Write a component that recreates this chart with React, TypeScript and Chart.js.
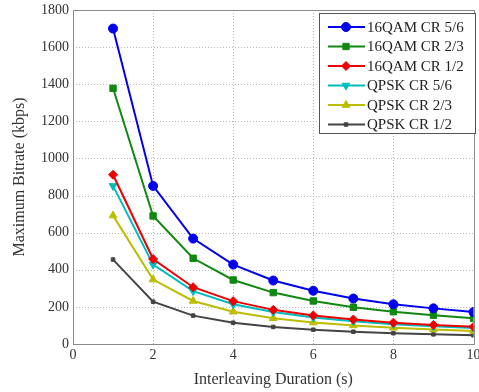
import React, { useEffect, useRef } from "react";
import { Chart, registerables } from "chart.js";

Chart.register(...registerables);

const durations = [1, 2, 3, 4, 5, 6, 7, 8, 9, 10];
const seriesNames = ["16QAM CR 5/6", "16QAM CR 2/3", "16QAM CR 1/2", "QPSK CR 5/6", "QPSK CR 2/3", "QPSK CR 1/2"];
const qam16_56 = [1700, 852, 568, 428, 342, 287, 245, 214, 192, 172];
const qam16_23 = [1378, 690, 462, 345, 277, 232, 198, 174, 155, 139];
const qam16_12 = [912, 458, 306, 231, 184, 154, 132, 115, 103, 93];
const qpsk_56 = [852, 428, 285, 214, 172, 143, 123, 107, 95, 86];
const qpsk_23 = [692, 347, 232, 174, 139, 116, 100, 87, 78, 70];
const qpsk_12 = [455, 228, 153, 115, 92, 77, 66, 58, 52, 47];
const xTicks = [0, 2, 4, 6, 8, 10];
const yTicks = [0, 200, 400, 600, 800, 1000, 1200, 1400, 1600, 1800];

const allValues = [qam16_56, qam16_23, qam16_12, qpsk_56, qpsk_23, qpsk_12];
const colors = ["#0000ee", "#118811", "#ee0000", "#00bcbc", "#bcbc00", "#444444"];
const pointStyles = ["circle", "rect", "rectRot", "triangle", "triangle", "rect"];
const pointRotations = [0, 0, 0, 180, 0, 0];
const pointRadii = [4.5, 4.5, 4.5, 4.5, 4.5, 2.5];

const FONT = "'Liberation Serif', 'Times New Roman', serif";

function drawMarker(ctx: CanvasRenderingContext2D, style: string, rotation: number, r: number, x: number, y: number) {
  ctx.save();
  ctx.translate(x, y);
  ctx.rotate((rotation * Math.PI) / 180);
  ctx.beginPath();
  if (style === "circle") {
    ctx.arc(0, 0, r, 0, Math.PI * 2);
  } else if (style === "rect") {
    const s = r * Math.SQRT1_2;
    ctx.rect(-s, -s, 2 * s, 2 * s);
  } else if (style === "rectRot") {
    const s = r * Math.SQRT1_2;
    ctx.moveTo(0, -s * 1.41);
    ctx.lineTo(s * 1.41, 0);
    ctx.lineTo(0, s * 1.41);
    ctx.lineTo(-s * 1.41, 0);
    ctx.closePath();
  } else if (style === "triangle") {
    ctx.moveTo(0, -r);
    ctx.lineTo(r * 0.866, r * 0.5);
    ctx.lineTo(-r * 0.866, r * 0.5);
    ctx.closePath();
  }
  ctx.fill();
  ctx.stroke();
  ctx.restore();
}

const gridPlugin = {
  id: "dottedGrid",
  beforeDatasetsDraw(chart: any) {
    const { ctx, chartArea, scales } = chart;
    ctx.save();
    ctx.strokeStyle = "#b8b8b8";
    ctx.lineWidth = 1;
    ctx.setLineDash([1, 2]);
    xTicks.forEach((v) => {
      const px = Math.round(scales.x.getPixelForValue(v)) + 0.5;
      ctx.beginPath();
      ctx.moveTo(px, chartArea.top);
      ctx.lineTo(px, chartArea.bottom);
      ctx.stroke();
    });
    yTicks.forEach((v) => {
      const py = Math.round(scales.y.getPixelForValue(v)) + 0.5;
      ctx.beginPath();
      ctx.moveTo(chartArea.left, py);
      ctx.lineTo(chartArea.right, py);
      ctx.stroke();
    });
    ctx.restore();
  },
};

const boxPlugin = {
  id: "boxAndLegend",
  afterDraw(chart: any) {
    const { ctx, chartArea } = chart;
    ctx.save();
    ctx.strokeStyle = "#8a8a8a";
    ctx.lineWidth = 1;
    ctx.strokeRect(Math.round(chartArea.left) + 0.5, Math.round(chartArea.top) + 0.5, Math.round(chartArea.right - chartArea.left), Math.round(chartArea.bottom - chartArea.top));

    // legend
    const bx = Math.round(chartArea.right) - 155;
    const by = Math.round(chartArea.top) + 3;
    const bw = 156;
    const bh = 120;
    ctx.fillStyle = "#ffffff";
    ctx.fillRect(bx, by, bw, bh);
    ctx.strokeStyle = "#555555";
    ctx.strokeRect(bx + 0.5, by + 0.5, bw, bh);
    ctx.font = "15px " + FONT;
    ctx.textBaseline = "middle";
    ctx.textAlign = "left";
    chart.data.datasets.forEach((ds: any, i: number) => {
      const cy = by + 14 + i * 19.5;
      ctx.strokeStyle = ds.borderColor;
      ctx.lineWidth = 2;
      ctx.beginPath();
      ctx.moveTo(bx + 9, cy);
      ctx.lineTo(bx + 46, cy);
      ctx.stroke();
      ctx.fillStyle = ds.backgroundColor;
      ctx.strokeStyle = ds.borderColor;
      ctx.lineWidth = 1;
      drawMarker(ctx, ds.pointStyle, ds.rotation, ds.pointRadius, bx + 27, cy);
      ctx.fillStyle = "#222222";
      ctx.fillText(ds.label, bx + 48, cy + 1);
    });
    ctx.restore();
  },
};

export default function App() {
  const ref = useRef<HTMLCanvasElement>(null);
  useEffect(() => {
    if (!ref.current) return;
    const datasets = seriesNames.map((name, i) => ({
      label: name,
      data: durations.map((d, j) => ({ x: d, y: allValues[i][j] })),
      borderColor: colors[i],
      backgroundColor: colors[i],
      borderWidth: 2,
      pointStyle: pointStyles[i],
      rotation: pointRotations[i],
      pointRadius: pointRadii[i],
      pointBorderWidth: 1,
      tension: 0,
    }));
    const chart = new Chart(ref.current, {
      type: "line",
      data: { datasets },
      options: {
        animation: false,
        responsive: false,
        maintainAspectRatio: false,
        layout: { padding: { top: 10, right: 1, left: 0, bottom: 0 } },
        plugins: { legend: { display: false }, tooltip: { enabled: false } },
        scales: {
          x: {
            type: "linear",
            min: 0,
            max: 10,
            afterBuildTicks: (axis: any) => {
              axis.ticks = xTicks.map((v) => ({ value: v }));
            },
            afterFit: (axis: any) => {
              axis.height = 48;
              axis.paddingLeft = 0;
              axis.paddingRight = 0;
            },
            ticks: { font: { family: FONT, size: 14 }, color: "#333", padding: 3, maxRotation: 0 },
            grid: { display: false, drawTicks: false, tickLength: 0 },
            border: { display: true, color: "#8a8a8a" },
            title: { display: true, text: "Interleaving Duration (s)", font: { family: FONT, size: 16 }, color: "#333", padding: { top: 0, bottom: 3 } },
          },
          y: {
            type: "linear",
            min: 0,
            max: 1800,
            afterBuildTicks: (axis: any) => {
              axis.ticks = yTicks.map((v) => ({ value: v }));
            },
            afterFit: (axis: any) => {
              axis.width = 73;
              axis.paddingTop = 0;
              axis.paddingBottom = 0;
            },
            ticks: { font: { family: FONT, size: 14 }, color: "#333", padding: 4, callback: (v: any) => String(v) },
            grid: { display: false, drawTicks: false, tickLength: 0 },
            border: { display: true, color: "#8a8a8a" },
            title: { display: true, text: "Maximum Bitrate (kbps)", font: { family: FONT, size: 16 }, color: "#333", padding: { top: 10, bottom: 0 } },
          },
        },
      },
      plugins: [gridPlugin, boxPlugin],
    });
    return () => chart.destroy();
  }, []);
  return (
    <div style={{ position: "fixed", left: 0, top: 0, width: 479, height: 392, background: "#fff" }}>
      <canvas ref={ref} width={479} height={392} style={{ display: "block" }} />
    </div>
  );
}
